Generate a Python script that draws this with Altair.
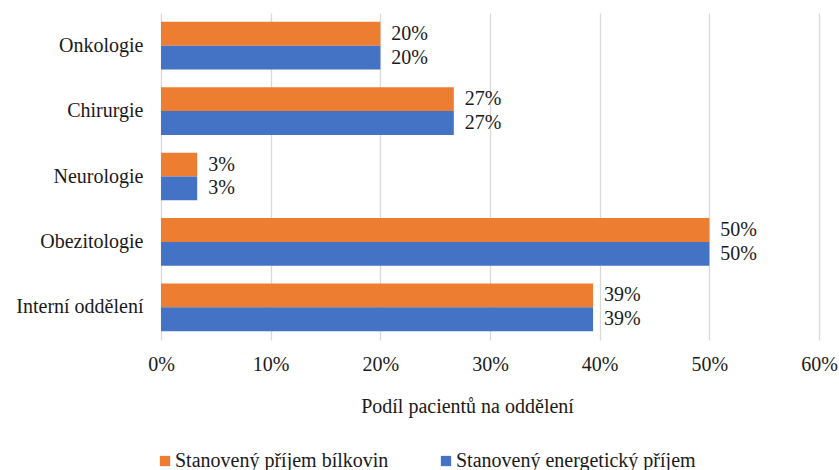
import altair as alt
import pandas as pd

# Share of patients per ward with a determined protein / energy intake
departments = ["Onkologie", "Chirurgie", "Neurologie", "Obezitologie", "Interní oddělení"]
protein_share = [0.20, 0.267, 0.033, 0.50, 0.394]
energy_share = [0.20, 0.267, 0.033, 0.50, 0.394]
series = ["Stanovený příjem bílkovin", "Stanovený energetický příjem"]
colors = ["#ED7D31", "#4472C4"]
x_ticks = [0, 0.1, 0.2, 0.3, 0.4, 0.5, 0.6]

rows = []
for dep, p, e in zip(departments, protein_share, energy_share):
    rows.append({"oddeleni": dep, "serie": series[0], "podil": p})
    rows.append({"oddeleni": dep, "serie": series[1], "podil": e})
df = pd.DataFrame(rows)

FONT = "Times New Roman, Liberation Serif, serif"
FS = 20
TEXT = "#1a1a1a"

y_enc = alt.Y(
    "oddeleni:N",
    sort=departments,
    scale=alt.Scale(paddingInner=0.27, paddingOuter=0.135),
    axis=alt.Axis(
        title=None, domain=False, ticks=False, labelPadding=18,
        labelFont=FONT, labelFontSize=FS, labelColor=TEXT,
    ),
)
x_enc = alt.X(
    "podil:Q",
    scale=alt.Scale(domain=[0, 0.6], nice=False),
    axis=alt.Axis(
        values=x_ticks, format=".0%", title="Podíl pacientů na oddělení",
        domain=False, ticks=False, labelPadding=30, labelBaseline="alphabetic",
        labelFlush=False,
        labelFont=FONT, labelFontSize=FS, labelColor=TEXT,
        titleFont=FONT, titleFontSize=FS, titleColor=TEXT, titleFontWeight="normal",
        titleX=306, titleY=72, titleAlign="center", titleBaseline="alphabetic",
        grid=True, gridColor="#d9d9d9", gridWidth=1.3,
    ),
)
y_off = alt.YOffset("serie:N", sort=series)

bars = alt.Chart(df).mark_bar().encode(
    y=y_enc,
    x=x_enc,
    yOffset=y_off,
    color=alt.Color(
        "serie:N",
        sort=series,
        scale=alt.Scale(domain=series, range=colors),
        legend=alt.Legend(
            title=None, orient="none", legendX=-6, legendY=438,
            direction="horizontal", columns=2, columnPadding=47,
            symbolType="square", symbolSize=106, symbolStrokeWidth=0,
            labelFont=FONT, labelFontSize=FS, labelColor=TEXT, labelOffset=0,
            labelLimit=400,
        ),
    ),
)

labels = alt.Chart(df).mark_text(
    align="left", baseline="middle", dx=11, font=FONT, fontSize=FS, color=TEXT
).encode(
    y=y_enc,
    x="podil:Q",
    yOffset=y_off,
    text=alt.Text("podil:Q", format=".0%"),
)

chart = (
    alt.layer(bars, labels)
    .properties(
        width=658, height=327,
        autosize=alt.AutoSizeParams(type="none"),
        padding={"left": 161, "top": 13, "right": 20, "bottom": 130},
    )
    .configure_view(stroke=None)
)

chart.save("out.html", embed_options={"renderer": "svg", "actions": False})
